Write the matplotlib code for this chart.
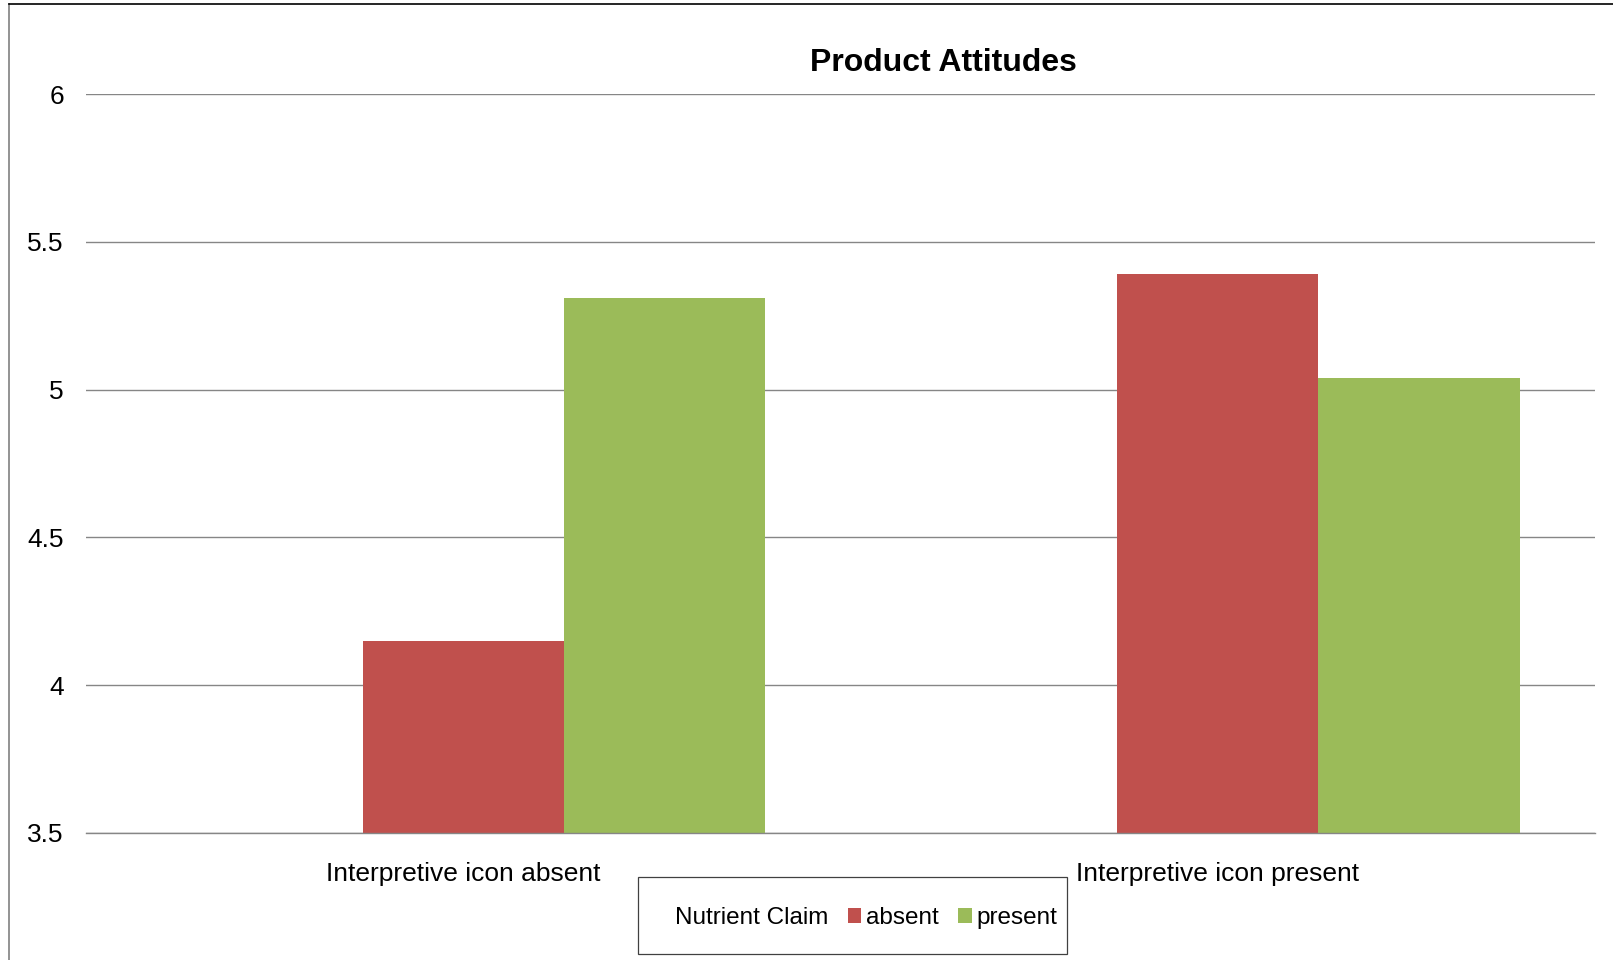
import matplotlib
matplotlib.use('Agg')
from matplotlib import pyplot as plt
from matplotlib.patches import Rectangle, Patch
from matplotlib.lines import Line2D
import numpy as np

plt.rcParams['font.family'] = ['Liberation Sans', 'DejaVu Sans']

categories = ['Interpretive icon absent', 'Interpretive icon present']
series_names = ['absent', 'present']
claim_absent = [4.15, 5.39]
claim_present = [5.31, 5.04]
yticks = [3.5, 4, 4.5, 5, 5.5, 6]
ytick_labels = ['3.5', '4', '4.5', '5', '5.5', '6']

red = '#C0504D'
green = '#9BBB59'
grid_col = '#868686'

W, H = 1613, 960
fig = plt.figure(figsize=(W/100., H/100.), dpi=100)
fig.patch.set_facecolor('white')

# plot area in pixels: x 86..1595, y 94..833
ax = fig.add_axes([86./W, 1-833./H, (1595.-86.)/W, (833.-94.)/H])

x = np.arange(len(categories))
width = 1/(3+0.75)  # three slots per group, 75% gap; first slot is the label-only series
ax.bar(x, claim_absent, width=width, color=red, label=series_names[0], zorder=2)
ax.bar(x+width, claim_present, width=width, color=green, label=series_names[1], zorder=2)

ax.set_xlim(-0.5, 1.5)
ax.set_ylim(3.5, 6)
ax.set_yticks(yticks)
ax.set_yticklabels(ytick_labels)
ax.set_xticks(x)
ax.set_xticklabels(categories)
ax.tick_params(axis='y', length=0, pad=16, labelsize=19)
ax.tick_params(axis='x', length=0, pad=21, labelsize=19)
ax.yaxis.grid(True, color=grid_col, linewidth=1.0)
ax.set_axisbelow(True)
for s in ['top', 'right', 'left']:
    ax.spines[s].set_visible(False)
ax.spines['bottom'].set_color(grid_col)
ax.spines['bottom'].set_linewidth(1.0)

fig.text(943./W, 1-71./H, 'Product Attitudes', ha='center', va='baseline',
         fontsize=23, fontweight='bold')

# legend: title-like first entry without a swatch, then the two series
handles = [Patch(facecolor='none', edgecolor='none'),
           Patch(facecolor=red, edgecolor='none'),
           Patch(facecolor=green, edgecolor='none')]
labels = ['Nutrient Claim'] + series_names
leg = fig.legend(handles, labels, loc='center', ncol=3, frameon=False,
                 bbox_to_anchor=(857./W, 1-918./H), bbox_transform=fig.transFigure,
                 fontsize=17.5, handlelength=0.55, handleheight=0.55,
                 handletextpad=0.2, columnspacing=0.8, borderpad=0)
fig.patches.append(Rectangle((638./W, 1-954./H), 429./W, 77./H, transform=fig.transFigure,
                             facecolor='none', edgecolor='#404040', linewidth=0.9))

# chart area border (left and top edges)
fig.lines.append(Line2D([9./W, 9./W], [0, 1-4./H], transform=fig.transFigure,
                        color='#808080', linewidth=1.2))
fig.lines.append(Line2D([9./W, 1], [1-4./H, 1-4./H], transform=fig.transFigure,
                        color='black', linewidth=1.2))

fig.savefig('out.png', dpi=100)
